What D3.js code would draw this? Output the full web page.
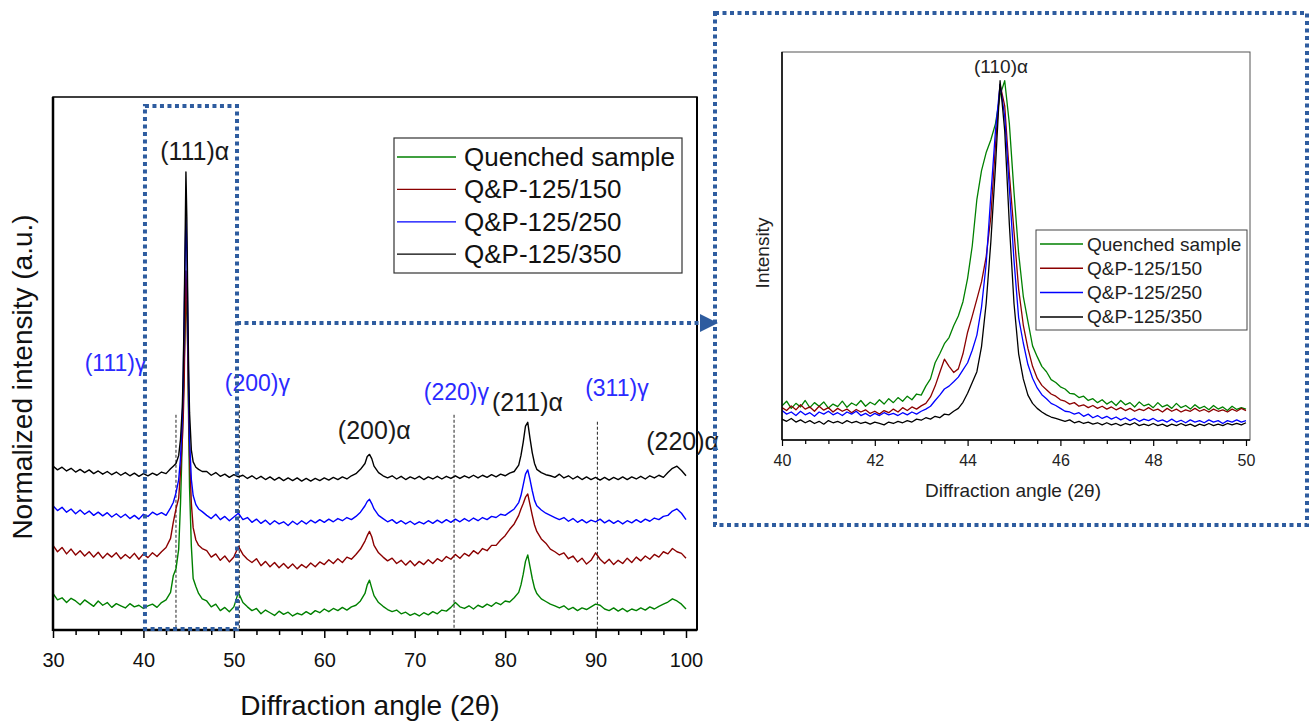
<!DOCTYPE html>
<html>
<head>
<meta charset="utf-8">
<style>
  body { margin: 0; background: #fff; }
  svg { font-family: "Liberation Sans", Arial, sans-serif; }
  .line { fill: none; stroke-width: 1.4; stroke-linejoin: round; }
  .inset-line { fill: none; stroke-width: 1.3; stroke-linejoin: round; }
</style>
<script src="https://cdn.jsdelivr.net/npm/d3@7/dist/d3.min.js"></script>
</head>
<body>
<svg id="chart" width="1311" height="722"></svg>
<script>
// ---------- data ----------
let seriesNames = ["Quenched sample", "Q&P-125/150", "Q&P-125/250", "Q&P-125/350"]
let seriesColors = ["#008000", "#8b0000", "#0000ff", "#000000"]

// main pattern, 2theta (deg)
let mainAngles = [
  30,30.5,31,31.5,32,32.5,33,33.5,34,34.5,35,35.5,36,36.5,37,37.5,38,38.5,39,39.5,40,40.5,41,41.5,42,42.5,43,
  43.3,43.6,43.9,44.1,44.3,44.4,44.5,44.6,44.7,44.8,44.9,45,45.1,45.3,45.5,45.8,46.1,46.5,
  47,47.5,48,48.5,49,49.5,50,50.5,51,51.5,52,52.5,53,53.5,54,54.5,55,55.5,56,56.5,57,57.5,58,58.5,59,59.5,60,60.5,61,61.5,62,62.5,63,63.5,64,64.5,
  64.75,65,65.25,65.5,66,66.5,67,67.5,68,68.5,69,69.5,70,70.5,71,71.5,72,72.5,73,73.5,74,74.5,75,75.5,76,76.5,77,77.5,78,78.5,79,79.5,80,80.5,81,81.5,
  81.75,82,82.25,82.5,82.75,83,83.25,
  83.5,84,84.5,85,85.5,86,86.5,87,87.5,88,88.5,89,89.5,90,90.5,91,91.5,92,92.5,93,93.5,94,94.5,95,95.5,96,96.5,97,97.5,98,98.5,99,99.5,100]

// normalized intensity, stacked (a.u.)
let mainQuenched = [
  0.72,0.60,0.64,0.55,0.63,0.58,0.51,0.60,0.54,0.48,0.58,0.50,0.55,0.46,0.53,0.49,0.45,0.53,0.47,0.50,0.44,0.49,0.52,0.46,0.55,0.60,0.74,
  1.05,1.18,1.55,2.40,3.60,4.30,5.00,5.60,6.10,6.20,5.30,3.90,2.70,1.60,1.00,0.85,0.72,0.62,
  0.58,0.47,0.52,0.40,0.46,0.38,0.47,0.74,0.55,0.47,0.40,0.44,0.34,0.41,0.36,0.31,0.39,0.33,0.37,0.30,0.35,0.32,0.38,0.33,0.40,0.36,0.43,0.38,0.44,0.40,0.46,0.41,0.47,0.50,0.58,0.72,
  0.88,0.97,0.82,0.68,0.55,0.48,0.42,0.38,0.41,0.34,0.37,0.31,0.35,0.30,0.36,0.32,0.38,0.34,0.41,0.39,0.46,0.55,0.47,0.44,0.49,0.43,0.50,0.46,0.52,0.48,0.55,0.51,0.58,0.56,0.64,0.74,
  0.88,1.08,1.32,1.44,1.22,1.00,0.82,
  0.72,0.62,0.57,0.52,0.49,0.45,0.49,0.42,0.46,0.40,0.45,0.42,0.47,0.52,0.50,0.43,0.40,0.45,0.39,0.44,0.38,0.43,0.40,0.45,0.41,0.47,0.43,0.48,0.52,0.56,0.62,0.58,0.52,0.43]
let main150 = [
  1.62,1.50,1.58,1.46,1.55,1.44,1.52,1.42,1.50,1.40,1.49,1.38,1.47,1.40,1.48,1.37,1.45,1.38,1.47,1.36,1.46,1.39,1.48,1.41,1.50,1.58,1.75,
  2.05,2.30,2.50,3.00,3.60,4.00,4.60,5.70,6.75,6.30,5.20,4.20,3.30,2.40,1.95,1.72,1.62,1.56,
  1.52,1.40,1.46,1.34,1.42,1.31,1.40,1.60,1.45,1.36,1.30,1.37,1.24,1.32,1.22,1.30,1.20,1.28,1.19,1.27,1.18,1.26,1.20,1.29,1.22,1.31,1.26,1.35,1.28,1.37,1.30,1.40,1.36,1.45,1.55,1.70,
  1.80,1.88,1.78,1.62,1.48,1.40,1.33,1.38,1.28,1.34,1.25,1.33,1.24,1.32,1.26,1.35,1.28,1.37,1.32,1.41,1.36,1.45,1.38,1.47,1.42,1.52,1.46,1.56,1.52,1.62,1.62,1.72,1.80,1.92,2.02,2.18,
  2.30,2.40,2.52,2.58,2.38,2.18,2.00,
  1.88,1.74,1.66,1.55,1.50,1.44,1.48,1.37,1.42,1.31,1.38,1.27,1.34,1.48,1.36,1.28,1.36,1.26,1.34,1.28,1.38,1.30,1.40,1.33,1.42,1.36,1.45,1.40,1.50,1.46,1.56,1.50,1.47,1.38]
let main250 = [
  2.36,2.27,2.33,2.24,2.30,2.21,2.28,2.20,2.26,2.18,2.24,2.17,2.23,2.15,2.21,2.14,2.20,2.12,2.18,2.11,2.20,2.16,2.24,2.19,2.23,2.18,2.32,
  2.42,2.60,2.85,3.25,4.00,4.70,5.80,6.90,7.75,7.10,5.90,4.60,3.60,2.85,2.55,2.38,2.30,2.25,
  2.18,2.12,2.20,2.10,2.16,2.08,2.15,2.22,2.10,2.14,2.05,2.11,2.03,2.09,2.01,2.08,2.02,2.06,1.99,2.07,2.01,2.08,2.02,2.09,2.04,2.10,2.05,2.11,2.06,2.12,2.08,2.14,2.10,2.16,2.24,2.36,
  2.44,2.48,2.40,2.30,2.18,2.12,2.06,2.10,2.03,2.08,2.02,2.07,2.01,2.06,2.02,2.08,2.03,2.09,2.04,2.10,2.05,2.11,2.06,2.12,2.07,2.13,2.08,2.14,2.10,2.16,2.14,2.20,2.18,2.24,2.30,2.42,
  2.55,2.75,2.95,3.03,2.85,2.64,2.46,
  2.36,2.28,2.22,2.18,2.14,2.10,2.14,2.07,2.12,2.05,2.10,2.04,2.09,2.06,2.11,2.04,2.09,2.03,2.08,2.02,2.08,2.04,2.10,2.05,2.11,2.07,2.13,2.10,2.16,2.18,2.26,2.30,2.22,2.10]
let main350 = [
  3.10,3.03,3.08,3.01,3.06,2.99,3.04,2.98,3.03,2.96,3.01,2.95,3.00,2.94,2.99,2.93,2.98,2.92,2.97,2.91,2.96,2.92,2.97,2.93,2.99,2.96,3.05,
  3.10,3.15,3.30,3.60,4.20,4.90,5.90,7.20,8.60,7.75,6.20,4.90,4.10,3.40,3.18,3.08,3.04,3.00,
  3.00,2.93,2.98,2.91,2.95,2.89,2.94,2.90,2.93,2.87,2.92,2.86,2.91,2.85,2.90,2.84,2.89,2.83,2.88,2.83,2.88,2.82,2.87,2.82,2.87,2.83,2.88,2.84,2.89,2.85,2.90,2.86,2.92,2.96,3.04,3.15,
  3.28,3.32,3.24,3.10,2.98,2.92,2.88,2.92,2.86,2.91,2.85,2.90,2.86,2.91,2.85,2.90,2.86,2.91,2.86,2.91,2.87,2.92,2.87,2.92,2.88,2.93,2.88,2.93,2.89,2.94,2.90,2.95,2.92,2.97,3.00,3.12,
  3.30,3.55,3.85,3.92,3.62,3.35,3.15,
  3.04,2.98,2.94,2.92,2.89,2.95,2.88,2.92,2.86,2.91,2.85,2.90,2.85,2.89,2.84,2.89,2.84,2.89,2.85,2.90,2.85,2.90,2.86,2.91,2.86,2.92,2.88,2.93,2.89,2.98,3.06,3.10,3.02,2.92]

let mainTicks = [30, 40, 50, 60, 70, 80, 90, 100]
let mainMinorTicks = [32.5,35,37.5,42.5,45,47.5,52.5,55,57.5,62.5,65,67.5,72.5,75,77.5,82.5,85,87.5,92.5,95,97.5]

// peak labels (angle, level in main plot units)
let peakLabels = [
  {text: "(111)α", angle: 41.85, level: 8.82, phase: "a"},
  {text: "(111)γ", angle: 33.5, level: 4.88, phase: "g"},
  {text: "(200)γ", angle: 49.0, level: 4.50, phase: "g"},
  {text: "(200)α", angle: 61.5, level: 3.61, phase: "a"},
  {text: "(220)γ", angle: 71.0, level: 4.34, phase: "g"},
  {text: "(211)α", angle: 78.55, level: 4.13, phase: "a"},
  {text: "(311)γ", angle: 88.85, level: 4.41, phase: "g"},
  {text: "(220)α", angle: 95.6, level: 3.40, phase: "a"}
]
// austenite reference lines: angle, top level
let gammaAngles = [43.6, 50.6, 74.35, 90.2]
let gammaTops = [4.06, 4.24, 4.06, 3.93]

// inset (110) peak, normalized
let insetAngles = [
  40,40.1,40.2,40.3,40.4,40.5,40.6,40.7,40.8,40.9,41,41.1,41.2,41.3,41.4,41.5,41.6,41.7,41.8,41.9,
  42,42.1,42.2,42.3,42.4,42.5,42.6,42.7,42.8,42.9,43,43.1,43.2,43.3,43.4,43.5,43.6,43.7,43.8,43.9,
  44,44.1,44.2,44.3,44.4,44.5,44.6,44.7,44.8,44.9,45,45.1,45.2,45.3,45.4,45.5,45.6,45.7,45.8,45.9,
  46,46.1,46.2,46.3,46.4,46.5,46.6,46.7,46.8,46.9,47,47.1,47.2,47.3,47.4,47.5,47.6,47.7,47.8,47.9,
  48,48.1,48.2,48.3,48.4,48.5,48.6,48.7,48.8,48.9,49,49.1,49.2,49.3,49.4,49.5,49.6,49.7,49.8,49.9,50]
let insetQuenched = [
  0.095,0.108,0.088,0.102,0.092,0.110,0.090,0.104,0.094,0.106,0.089,0.100,0.093,0.108,0.091,0.103,0.096,0.110,0.094,0.105,
  0.098,0.112,0.100,0.115,0.104,0.118,0.108,0.122,0.112,0.128,0.125,0.150,0.170,0.215,0.240,0.268,0.285,0.318,0.345,0.385,
  0.450,0.540,0.670,0.750,0.800,0.835,0.880,0.960,1.000,0.880,0.690,0.520,0.400,0.330,0.262,0.232,0.205,0.190,0.168,0.160,
  0.148,0.142,0.130,0.128,0.118,0.122,0.110,0.115,0.104,0.112,0.100,0.108,0.096,0.110,0.098,0.104,0.092,0.106,0.095,0.100,
  0.090,0.104,0.092,0.098,0.088,0.102,0.090,0.096,0.086,0.098,0.088,0.094,0.084,0.096,0.086,0.092,0.082,0.094,0.085,0.090,0.086]
let inset150 = [
  0.090,0.082,0.095,0.084,0.098,0.086,0.092,0.080,0.094,0.083,0.090,0.078,0.088,0.080,0.086,0.076,0.085,0.078,0.084,0.074,
  0.080,0.072,0.082,0.076,0.086,0.078,0.090,0.082,0.092,0.086,0.095,0.102,0.120,0.150,0.188,0.225,0.205,0.188,0.198,0.240,
  0.300,0.345,0.392,0.440,0.510,0.620,0.820,0.990,0.930,0.740,0.580,0.420,0.320,0.255,0.205,0.172,0.152,0.140,0.128,0.122,
  0.112,0.108,0.100,0.104,0.094,0.098,0.090,0.096,0.088,0.094,0.086,0.092,0.084,0.090,0.082,0.088,0.080,0.086,0.082,0.090,
  0.082,0.086,0.078,0.088,0.080,0.086,0.078,0.084,0.080,0.088,0.080,0.085,0.078,0.086,0.080,0.084,0.078,0.086,0.080,0.088,0.082]
let inset250 = [
  0.082,0.072,0.078,0.068,0.080,0.070,0.076,0.066,0.078,0.072,0.080,0.070,0.076,0.068,0.078,0.072,0.080,0.068,0.074,0.066,
  0.074,0.068,0.076,0.070,0.074,0.068,0.076,0.070,0.078,0.072,0.080,0.086,0.094,0.110,0.125,0.142,0.150,0.162,0.175,0.195,
  0.215,0.250,0.292,0.370,0.490,0.680,0.860,0.990,0.900,0.700,0.500,0.340,0.270,0.210,0.172,0.145,0.126,0.115,0.102,0.096,
  0.088,0.080,0.078,0.072,0.076,0.066,0.072,0.062,0.068,0.060,0.066,0.058,0.064,0.056,0.062,0.054,0.060,0.052,0.058,0.054,
  0.060,0.052,0.056,0.050,0.058,0.050,0.055,0.048,0.056,0.050,0.054,0.048,0.056,0.050,0.054,0.046,0.054,0.050,0.056,0.050,0.054]
let inset350 = [
  0.058,0.052,0.060,0.050,0.056,0.048,0.054,0.046,0.052,0.044,0.054,0.048,0.052,0.046,0.054,0.048,0.052,0.046,0.050,0.044,
  0.050,0.046,0.042,0.050,0.046,0.052,0.048,0.054,0.050,0.058,0.055,0.062,0.058,0.066,0.062,0.072,0.070,0.080,0.088,0.105,
  0.130,0.160,0.190,0.260,0.380,0.550,0.760,1.000,0.860,0.600,0.380,0.240,0.170,0.125,0.102,0.088,0.078,0.070,0.064,0.060,
  0.056,0.052,0.056,0.048,0.052,0.046,0.050,0.044,0.048,0.042,0.048,0.042,0.046,0.040,0.046,0.042,0.048,0.040,0.044,0.040,
  0.046,0.040,0.044,0.038,0.044,0.040,0.046,0.040,0.044,0.038,0.044,0.040,0.046,0.040,0.044,0.040,0.046,0.042,0.046,0.042,0.048]

let insetTicks = [40, 42, 44, 46, 48, 50]
let insetMinorTicks = [40.5,41,41.5,42.5,43,43.5,44.5,45,45.5,46.5,47,47.5,48.5,49,49.5]

let mainSeries = [mainQuenched, main150, main250, main350]
let insetSeries = [insetQuenched, inset150, inset250, inset350]

// ---------- drawing ----------
let svg = d3.select("#chart")
let boxBlue = "#2e5c9f"

// main plot
let mBox = {left: 53, right: 697, top: 97, bottom: 630}
let x = d3.scaleLinear().domain([30, 100]).range([53, 686])
let y = d3.scaleLinear().domain([0, 10]).range([632, 97])

svg.append("defs").append("clipPath").attr("id", "mclip")
  .append("rect").attr("x", mBox.left).attr("y", mBox.top)
  .attr("width", mBox.right - mBox.left).attr("height", mBox.bottom - mBox.top)

// dashed gamma lines
svg.append("g").selectAll("line").data(gammaAngles).join("line")
  .attr("x1", d => x(d)).attr("x2", d => x(d))
  .attr("y1", (d, i) => y(gammaTops[i])).attr("y2", mBox.bottom)
  .attr("stroke", "#222").attr("stroke-width", 1).attr("stroke-dasharray", "3 2")

let mline = d3.line().x(d => x(d[0])).y(d => y(d[1]))
svg.append("g").attr("clip-path", "url(#mclip)")
  .selectAll("path").data(mainSeries).join("path")
  .attr("class", "line")
  .attr("stroke", (d, i) => seriesColors[i])
  .attr("d", vals => mline(mainAngles.map((a, i) => [a, vals[i]])))

// frame
svg.append("rect").attr("x", mBox.left).attr("y", mBox.top)
  .attr("width", mBox.right - mBox.left).attr("height", mBox.bottom - mBox.top)
  .attr("fill", "none").attr("stroke", "#000").attr("stroke-width", 1.5)
svg.append("line").attr("x1", mBox.left).attr("x2", mBox.left).attr("y1", mBox.top).attr("y2", mBox.bottom + 1)
  .attr("stroke", "#000").attr("stroke-width", 2.5)
svg.append("line").attr("x1", mBox.left).attr("x2", mBox.right).attr("y1", mBox.bottom).attr("y2", mBox.bottom)
  .attr("stroke", "#000").attr("stroke-width", 2.5)
svg.append("line").attr("x1", mBox.right).attr("x2", mBox.right).attr("y1", mBox.top).attr("y2", mBox.bottom)
  .attr("stroke", "#000").attr("stroke-width", 2)

// x axis
let gx = svg.append("g").attr("transform", `translate(0,${mBox.bottom})`)
  .call(d3.axisBottom(x).tickValues(mainTicks).tickSize(8).tickPadding(15))
gx.attr("font-size", null).attr("font-family", null)
gx.select(".domain").remove()
gx.selectAll("line").attr("stroke-width", 1.5)
gx.selectAll("text").attr("font-size", 20).attr("fill", "#111")
let gxm = svg.append("g").attr("transform", `translate(0,${mBox.bottom})`)
  .call(d3.axisBottom(x).tickValues(mainMinorTicks).tickSize(5).tickFormat(""))
gxm.select(".domain").remove()
gxm.selectAll("line").attr("stroke-width", 1.5)

svg.append("text").attr("x", 370).attr("y", 715).attr("text-anchor", "middle")
  .attr("font-size", 28).attr("fill", "#111").text("Diffraction angle (2θ)")
svg.append("text").attr("transform", "translate(32,377) rotate(-90)").attr("text-anchor", "middle")
  .attr("font-size", 28).attr("fill", "#111").text("Normalized intensity (a.u.)")

// peak labels
svg.append("g").selectAll("text").data(peakLabels).join("text")
  .attr("x", d => x(d.angle)).attr("y", d => y(d.level))
  .attr("font-size", d => d.phase == "a" ? 25 : 23)
  .attr("fill", d => d.phase == "a" ? "#1a1a1a" : "#2a2aff")
  .text(d => d.text)

// main legend
let lg = svg.append("g").attr("transform", "translate(394,138)")
lg.append("rect").attr("width", 288).attr("height", 135).attr("fill", "#fff")
  .attr("stroke", "#333").attr("stroke-width", 1.2)
let lgi = lg.selectAll("g").data(seriesNames).join("g")
  .attr("transform", (d, i) => `translate(0,${19 + i * 32.4})`)
lgi.append("line").attr("x1", 3).attr("x2", 62).attr("stroke", (d, i) => seriesColors[i]).attr("stroke-width", 1.3)
lgi.append("text").attr("x", 70).attr("y", 9).attr("font-size", 26).attr("fill", "#111").text(d => d)

// zoom box and connector
let zb = {from: 40.17, to: 50.35}
svg.append("rect").attr("x", x(zb.from)).attr("y", 106)
  .attr("width", x(zb.to) - x(zb.from)).attr("height", 523)
  .attr("fill", "none").attr("stroke", boxBlue).attr("stroke-width", 4).attr("stroke-dasharray", "4 3.5")
svg.append("line").attr("x1", x(zb.to)).attr("x2", 701).attr("y1", 323).attr("y2", 323)
  .attr("stroke", boxBlue).attr("stroke-width", 4).attr("stroke-dasharray", "4 3.5")
svg.append("path").attr("d", "M700,314 L718,323 L700,332 Z").attr("fill", boxBlue)

// inset
svg.append("rect").attr("x", 715).attr("y", 13).attr("width", 592).attr("height", 512)
  .attr("fill", "none").attr("stroke", boxBlue).attr("stroke-width", 4).attr("stroke-dasharray", "4 3.5")

let iBox = {left: 782, right: 1250, top: 52, bottom: 440}
let xi = d3.scaleLinear().domain([40, 50]).range([782, 1246])
let yi = d3.scaleLinear().domain([0, 1.08]).range([440, 52])

svg.select("defs").append("clipPath").attr("id", "iclip")
  .append("rect").attr("x", iBox.left).attr("y", iBox.top)
  .attr("width", iBox.right - iBox.left).attr("height", iBox.bottom - iBox.top)

svg.append("rect").attr("x", iBox.left).attr("y", iBox.top)
  .attr("width", iBox.right - iBox.left).attr("height", iBox.bottom - iBox.top)
  .attr("fill", "none").attr("stroke", "#555").attr("stroke-width", 1)

let iline = d3.line().x(d => xi(d[0])).y(d => yi(d[1]))
svg.append("g").attr("clip-path", "url(#iclip)")
  .selectAll("path").data(insetSeries).join("path")
  .attr("class", "inset-line")
  .attr("stroke", (d, i) => seriesColors[i])
  .attr("d", vals => iline(insetAngles.map((a, i) => [a, vals[i]])))

svg.append("line").attr("x1", iBox.left).attr("x2", iBox.left).attr("y1", iBox.top).attr("y2", iBox.bottom)
  .attr("stroke", "#000").attr("stroke-width", 1.5)
svg.append("line").attr("x1", iBox.left).attr("x2", iBox.right).attr("y1", iBox.bottom).attr("y2", iBox.bottom)
  .attr("stroke", "#000").attr("stroke-width", 1.5)

let gxi = svg.append("g").attr("transform", `translate(0,${iBox.bottom})`)
  .call(d3.axisBottom(xi).tickValues(insetTicks).tickSize(6).tickPadding(9))
gxi.attr("font-size", null).attr("font-family", null)
gxi.select(".domain").remove()
gxi.selectAll("line").attr("stroke-width", 1.2)
gxi.selectAll("text").attr("font-size", 16).attr("fill", "#222")
let gxim = svg.append("g").attr("transform", `translate(0,${iBox.bottom})`)
  .call(d3.axisBottom(xi).tickValues(insetMinorTicks).tickSize(4).tickFormat(""))
gxim.select(".domain").remove()
gxim.selectAll("line").attr("stroke-width", 1.2)

svg.append("text").attr("x", 1013).attr("y", 497).attr("text-anchor", "middle")
  .attr("font-size", 19).attr("fill", "#222").text("Diffraction angle (2θ)")
svg.append("text").attr("transform", "translate(769,253) rotate(-90)").attr("text-anchor", "middle")
  .attr("font-size", 19).attr("fill", "#222").text("Intensity")
svg.append("text").attr("x", xi(44.72)).attr("y", 73).attr("text-anchor", "middle")
  .attr("font-size", 19).attr("fill", "#222").text("(110)α")

// inset legend
let ilg = svg.append("g").attr("transform", "translate(1036,230)")
ilg.append("rect").attr("width", 211).attr("height", 100).attr("fill", "#fff")
  .attr("stroke", "#444").attr("stroke-width", 1)
let ilgi = ilg.selectAll("g").data(seriesNames).join("g")
  .attr("transform", (d, i) => `translate(0,${14 + i * 24.3})`)
ilgi.append("line").attr("x1", 4).attr("x2", 47).attr("stroke", (d, i) => seriesColors[i]).attr("stroke-width", 1.5)
ilgi.append("text").attr("x", 51).attr("y", 6.5).attr("font-size", 19).attr("fill", "#222").text(d => d)
</script>
</body>
</html>
